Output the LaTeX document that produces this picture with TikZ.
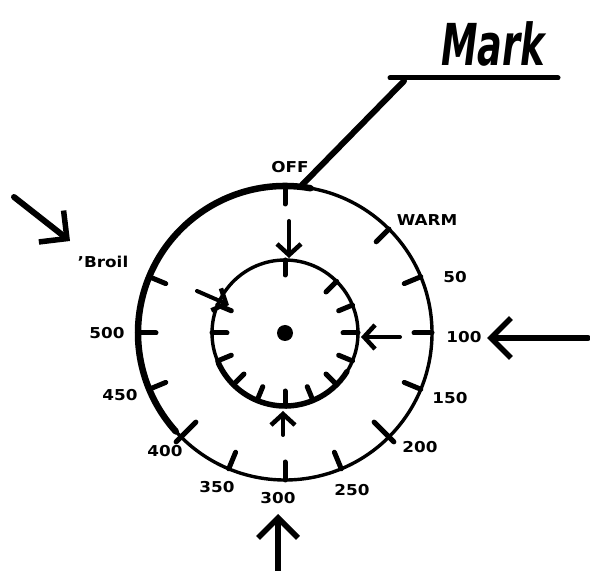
\documentclass[tikz,border=0pt]{standalone}
\usepackage{fontspec}
\setmainfont{DejaVu Sans}
\usetikzlibrary{arrows.meta}
\begin{document}
\begin{tikzpicture}[x=1pt,y=1pt,
  lbl/.style={font=\bfseries\fontsize{15}{15}\selectfont, xscale=1.12, inner sep=0pt},
  ring/.style={line width=3.4pt},
  heavy/.style={line width=6.5pt, line cap=round},
  tickmark/.style={line width=5pt, line cap=round},
  bigarrow/.style={line width=6pt, line cap=round, -{Straight Barb[length=20pt,width=40pt,line width=5.5pt]}},
  smallarrow/.style={line width=4pt, line cap=round, -{Straight Barb[length=11pt,width=24pt,line width=4.5pt]}}
]
\useasboundingbox (0,0) rectangle (590,571);
\coordinate (C) at (285,238);
% dial rings
\draw[ring] (C) circle (147);
\draw[heavy] ([shift={(80:147)}]C) arc (80:222:147);
\draw[ring] (C) circle (73);
\draw[line width=5.5pt, line cap=round] ([shift={(204:73)}]C) arc (204:328:73);
\fill (C) circle (8);
% tick marks
\foreach \a in {90,45,22.5,0,-22.5,-67.5,-90,-112.5,-157.5,180,157.5} {
  \draw[tickmark] ([shift={(\a:147)}]C) -- ([shift={(\a:129)}]C);
}
\foreach \a in {-45,-135} {
  \draw[tickmark] ([shift={(\a:154)}]C) -- ([shift={(\a:126)}]C);
}
\foreach \a in {90,45,22.5,0,-22.5,-45,-67.5,-90,-112.5,-135,-157.5,180,157.5} {
  \draw[tickmark] ([shift={(\a:73)}]C) -- ([shift={(\a:58)}]C);
}
% labels
\node[lbl] (off) at (290,404) {OFF};
\node[lbl] (warm) at (427,351) {WARM};
\node[lbl] (l50) at (455,294) {50};
\node[lbl] (l100) at (464,234) {100};
\node[lbl] (l150) at (450,173) {150};
\node[lbl] (l200) at (420,124) {200};
\node[lbl] (l250) at (352,81) {250};
\node[lbl] (l300) at (278,73) {300};
\node[lbl] (l350) at (217,84) {350};
\node[lbl] (l400) at (165,120) {400};
\node[lbl] (l450) at (120,176) {450};
\node[lbl] (l500) at (107,238) {500};
\node[lbl] (broil) at (103,309) {'Broil};
\node[font=\bfseries\itshape\fontsize{34}{34}\selectfont, xscale=1.08, yscale=1.7, inner sep=0pt] (mark) at (493,527) {Mark};
% Mark leader
\coordinate (u1) at (390,493);
\coordinate (u2) at (558,493);
\coordinate (m1) at (404,490);
\coordinate (m2) at (302,386);
\draw[line width=5pt, line cap=round] (u1) -- (u2);
\draw[line width=6pt, line cap=round] (m1) -- (m2);
% big arrows
\coordinate (b1) at (14,374);
\coordinate (b2) at (70,330);
\draw[bigarrow] (b1) -- (b2);
\coordinate (r1) at (588,233);
\coordinate (r2) at (487,233);
\draw[bigarrow] (r1) -- (r2);
\coordinate (d1) at (278,0);
\coordinate (d2) at (278,57);
\draw[bigarrow] (d1) -- (d2);
% small arrows
\coordinate (s1) at (289,350);
\coordinate (s2) at (289,313);
\draw[smallarrow] (s1) -- (s2);
\coordinate (t1) at (197,280);
\coordinate (t2) at (229,266);
\draw[smallarrow] (t1) -- (t2);
\coordinate (q1) at (400,234);
\coordinate (q2) at (361,234);
\draw[smallarrow] (q1) -- (q2);
\coordinate (p1) at (283,136);
\coordinate (p2) at (283,160);
\draw[smallarrow] (p1) -- (p2);
\end{tikzpicture}
\end{document}
